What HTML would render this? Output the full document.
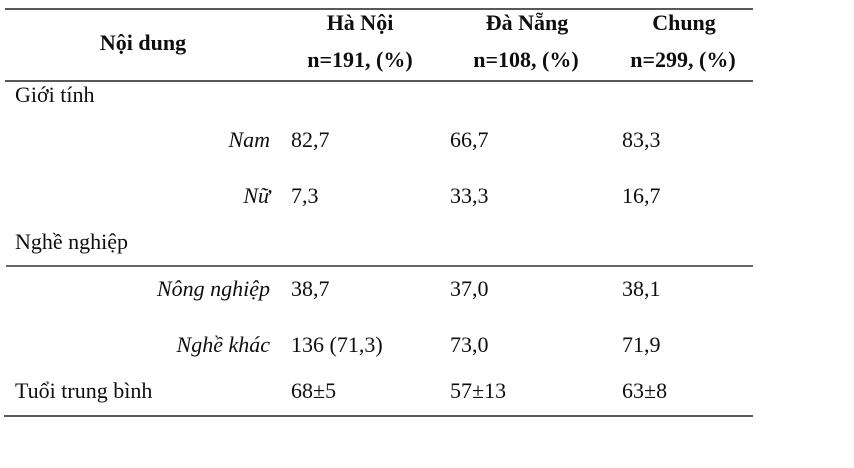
<!DOCTYPE html>
<html>
<head>
<meta charset="utf-8">
<style>
html,body{margin:0;padding:0;background:#fff;}
svg{display:block;}
text{font-family:"Liberation Serif","Times New Roman",serif;fill:#0e0e0e;font-size:22px;}
.b{font-weight:bold;}
.i{font-style:italic;}
</style>
</head>
<body>
<svg width="854" height="468" viewBox="0 0 854 468" xmlns="http://www.w3.org/2000/svg">
  <rect width="854" height="468" fill="#fff"/>
  <!-- rules -->
  <line x1="5" y1="9" x2="753" y2="9" stroke="#222" stroke-width="1.6"/>
  <line x1="5" y1="81" x2="753" y2="81" stroke="#222" stroke-width="1.6"/>
  <line x1="6" y1="266" x2="753" y2="266" stroke="#333" stroke-width="1.4"/>
  <line x1="4" y1="416" x2="753" y2="416" stroke="#222" stroke-width="1.6"/>

  <!-- header -->
  <text class="b" x="143" y="50" text-anchor="middle">Nội dung</text>
  <text class="b" x="360" y="30" text-anchor="middle">Hà Nội</text>
  <text class="b" x="360" y="67" text-anchor="middle">n=191, (%)</text>
  <text class="b" x="527" y="30" text-anchor="middle">Đà Nẵng</text>
  <text class="b" x="526" y="67" text-anchor="middle">n=108, (%)</text>
  <text class="b" x="684" y="30" text-anchor="middle">Chung</text>
  <text class="b" x="683" y="67" text-anchor="middle">n=299, (%)</text>

  <!-- body -->
  <text x="15" y="102">Giới tính</text>

  <text class="i" x="270" y="147" text-anchor="end">Nam</text>
  <text x="291" y="147">82,7</text>
  <text x="450" y="147">66,7</text>
  <text x="622" y="147">83,3</text>

  <text class="i" x="270" y="203" text-anchor="end">Nữ</text>
  <text x="291" y="203">7,3</text>
  <text x="450" y="203">33,3</text>
  <text x="622" y="203">16,7</text>

  <text x="15" y="249">Nghề nghiệp</text>

  <text class="i" x="270" y="296" text-anchor="end">Nông nghiệp</text>
  <text x="291" y="296">38,7</text>
  <text x="450" y="296">37,0</text>
  <text x="622" y="296">38,1</text>

  <text class="i" x="270" y="352" text-anchor="end">Nghề khác</text>
  <text x="291" y="352">136 (71,3)</text>
  <text x="450" y="352">73,0</text>
  <text x="622" y="352">71,9</text>

  <text x="15" y="398">Tuổi trung bình</text>
  <text x="291" y="398">68±5</text>
  <text x="450" y="398">57±13</text>
  <text x="622" y="398">63±8</text>
</svg>
</body>
</html>
